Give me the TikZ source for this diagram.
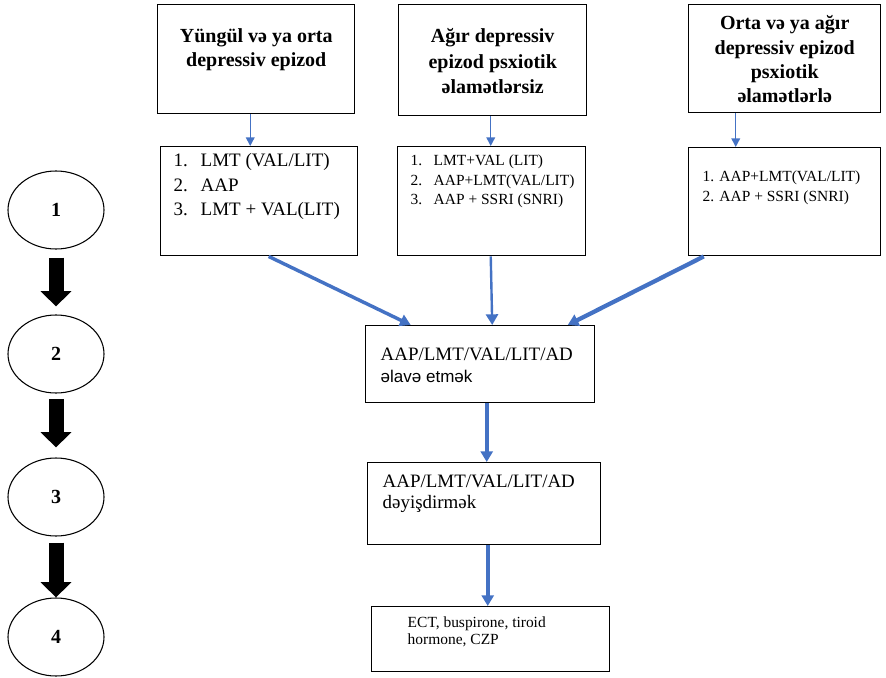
\documentclass[tikz,border=0pt]{standalone}
\usepackage{fontspec}
\setmainfont{Liberation Serif}
\newfontfamily\sansfnt{Liberation Sans}
\usetikzlibrary{shapes.geometric,arrows.meta,calc}
\newlength\px
\setlength\px{0.75pt}
\definecolor{linkblue}{RGB}{68,114,196}

\tikzset{
	box/.style={draw, line width=1.1pt, inner sep=0pt, anchor=north west},
	stage/.style={draw, ellipse, line width=0.8pt, minimum width=96\px, minimum height=78\px, inner sep=0pt, font=\fontsize{15pt}{18pt}\selectfont\bfseries},
	fatarrow/.style={line width=11.25pt, -{Triangle[length=11.5pt,width=22.5pt]}},
	thinlink/.style={draw=linkblue, line width=1.1pt, -{Triangle[length=6.5pt,width=6.5pt]}},
	thicklink/.style={draw=linkblue, line width=2.6pt, -{Triangle[length=8pt,width=9pt]}}}

\begin{document}
\begin{tikzpicture}[x=0.75pt,y=0.75pt,yscale=-1,xscale=1]
	\useasboundingbox (0,0) rectangle (886,678);

	%Shape: Rectangle [top row, diagnoses]
	\node[box] (mild) at (157,4) {\parbox[c][109\px][t]{197\px}{\centering\fontsize{15pt}{18pt}\selectfont\bfseries
		\rule{0pt}{38\px}Yüngül və ya orta\\ depressiv epizod}};
	\node[box] (severe) at (398,4) {\parbox[c][111\px][t]{188\px}{\centering\fontsize{15pt}{19pt}\selectfont\bfseries
		\rule{0pt}{38\px}Ağır depressiv\\ epizod psxiotik\\ əlamətlərsiz}};
	\node[box] (psychotic) at (688,4) {\parbox[c][108\px][t]{192\px}{\centering\fontsize{15pt}{18.2pt}\selectfont\bfseries
		\rule{0pt}{25\px}Orta və ya ağır\\ depressiv epizod\\ psxiotik\\ əlamətlərlə}};

	%Shape: Rectangle [second row, first line drugs]
	\node[box] (mildlist) at (160,146) {\parbox[c][109\px][t]{197\px}{\raggedright\fontsize{14.25pt}{18.4pt}\selectfont
		\rule{0pt}{20\px}\hspace*{13\px}\makebox[27\px][l]{1.}LMT (VAL/LIT)\\
		\hspace*{13\px}\makebox[27\px][l]{2.}AAP\\
		\hspace*{13\px}\makebox[27\px][l]{3.}LMT + VAL(LIT)}};
	\node[box] (severelist) at (397,146) {\parbox[c][109\px][t]{188\px}{\raggedright\fontsize{11.6pt}{14.6pt}\selectfont
		\rule{0pt}{19\px}\hspace*{13\px}\makebox[23\px][l]{1.}LMT+VAL (LIT)\\
		\hspace*{13\px}\makebox[23\px][l]{2.}AAP+LMT(VAL/LIT)\\
		\hspace*{13\px}\makebox[23\px][l]{3.}AAP + SSRI (SNRI)}};
	\node[box] (psychoticlist) at (688,147) {\parbox[c][108\px][t]{192\px}{\raggedright\fontsize{11.6pt}{15pt}\selectfont
		\rule{0pt}{34\px}\hspace*{14\px}1. AAP+LMT(VAL/LIT)\\
		\hspace*{14\px}2. AAP + SSRI (SNRI)}};

	%Shape: Rectangle [steps]
	\node[box] (addon) at (365,325) {\parbox[c][77\px][t]{229\px}{\raggedright\fontsize{14.2pt}{16.5pt}\selectfont
		\rule{0pt}{35\px}\hspace*{15\px}AAP/LMT/VAL/LIT/AD\\
		\hspace*{15\px}{\sansfnt\fontsize{12.75pt}{16.5pt}\selectfont əlavə etmək}}};
	\node[box] (switch) at (367,462) {\parbox[c][82\px][t]{233\px}{\raggedright\fontsize{14.2pt}{15.5pt}\selectfont
		\rule{0pt}{25\px}\hspace*{15\px}AAP/LMT/VAL/LIT/AD\\
		\hspace*{15\px}dəyişdirmək}};
	\node[box] (other) at (371,606) {\parbox[c][65\px][t]{238\px}{\raggedright\fontsize{11.6pt}{12.2pt}\selectfont
		\rule{0pt}{21\px}\hspace*{36\px}ECT, buspirone, tiroid\\
		\hspace*{36\px}hormone, CZP}};

	%Shape: Ellipse [stage numbers]
	\node[stage] (s1) at (56,210) {1};
	\node[stage] (s2) at (56,354) {2};
	\node[stage] (s3) at (56,497) {3};
	\node[stage] (s4) at (56,637) {4};

	%Straight Lines [black arrows]
	\draw[fatarrow, shorten <=6pt, shorten >=6pt] (s1.south) -- (s2.north);
	\draw[fatarrow, shorten <=4pt, shorten >=7.5pt] (s2.south) -- (s3.north);
	\draw[fatarrow, shorten <=4.5pt] (s3.south) -- (s4.north);

	%Straight Lines [blue connectors]
	\draw[thinlink] ($(mild.south)+(-6,0)$) -- ($(mildlist.north)+(-9,0)$);
	\draw[thinlink] ($(severe.south)+(-2,0)$) -- ($(severelist.north)+(-1,0)$);
	\draw[thinlink] ($(psychotic.south)+(-49,0)$) -- ($(psychoticlist.north)+(-49,0)$);
	\draw[thicklink] ($(mildlist.south)+(9.5,0)$) -- ($(addon.north)+(-69.5,0)$);
	\draw[thicklink, line width=1.8pt] ($(severelist.south)+(-1,0)$) -- ($(addon.north)+(12,0)$);
	\draw[thicklink, line width=3.2pt] ($(psychoticlist.south)+(-81,0)$) -- ($(addon.north)+(87.5,0)$);
	\draw[thicklink, line width=3pt] ($(addon.south)+(6.5,0)$) -- ($(switch.north)+(2.5,0)$);
	\draw[thicklink, line width=3pt] ($(switch.south)+(3.5,0)$) -- ($(other.north)+(-3,0)$);
\end{tikzpicture}
\end{document}
